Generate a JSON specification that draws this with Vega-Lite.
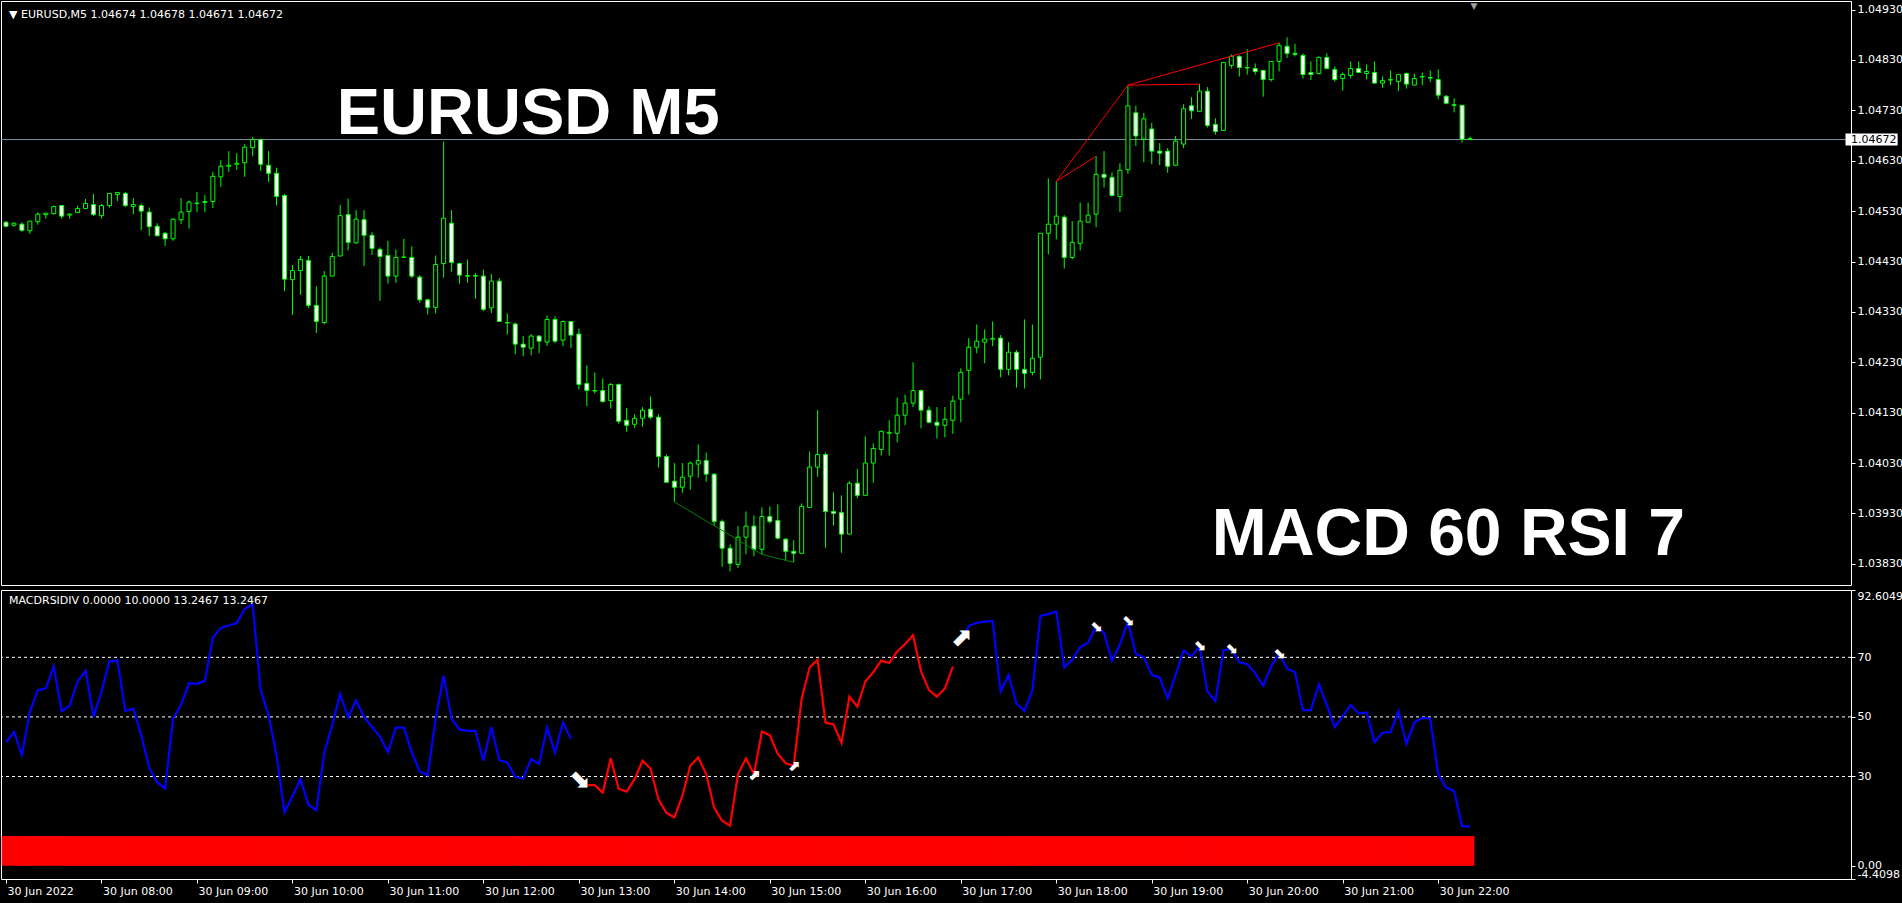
{
"$schema":"https://vega.github.io/schema/vega-lite/v6.json",
"background":"#000000",
"padding":{"left":0,"top":0,"right":0,"bottom":8},
"spacing":3,
"resolve":{"scale":{"color":"independent"}},
"config":{"view":{"stroke":"#ffffff","strokeWidth":1},"axis":{"labelColor":"#ffffff","tickColor":"#ffffff","labelFont":"DejaVu Sans","labelFontSize":11,"grid":false,"domain":false,"tickSize":4,"labelPadding":2,"labelOverlap":false},"font":"DejaVu Sans"},
"datasets":{
"candles":[
{"t":420,"o":1.04508,"h":1.0451,"l":1.04498,"c":1.045},
{"t":425,"o":1.04502,"h":1.04508,"l":1.04499,"c":1.04506},
{"t":430,"o":1.04504,"h":1.04508,"l":1.04489,"c":1.04492},
{"t":435,"o":1.04491,"h":1.0451,"l":1.04485,"c":1.0451},
{"t":440,"o":1.04509,"h":1.04528,"l":1.04503,"c":1.04524},
{"t":445,"o":1.04523,"h":1.04526,"l":1.04515,"c":1.04526},
{"t":450,"o":1.04525,"h":1.04541,"l":1.04523,"c":1.04539},
{"t":455,"o":1.04541,"h":1.04541,"l":1.04515,"c":1.0452},
{"t":460,"o":1.04522,"h":1.04526,"l":1.04515,"c":1.04524},
{"t":465,"o":1.04527,"h":1.04541,"l":1.04527,"c":1.04535},
{"t":470,"o":1.04535,"h":1.04554,"l":1.04535,"c":1.04545},
{"t":475,"o":1.04543,"h":1.04564,"l":1.0452,"c":1.04523},
{"t":480,"o":1.04521,"h":1.04544,"l":1.04515,"c":1.04541},
{"t":485,"o":1.04541,"h":1.04565,"l":1.04537,"c":1.04565},
{"t":490,"o":1.04563,"h":1.04567,"l":1.0455,"c":1.04567},
{"t":495,"o":1.04565,"h":1.04568,"l":1.04538,"c":1.04541},
{"t":500,"o":1.04539,"h":1.04556,"l":1.04524,"c":1.04543},
{"t":505,"o":1.04541,"h":1.04545,"l":1.04492,"c":1.0453},
{"t":510,"o":1.04528,"h":1.04537,"l":1.04481,"c":1.04499},
{"t":515,"o":1.045,"h":1.04506,"l":1.04481,"c":1.04481},
{"t":520,"o":1.04486,"h":1.04489,"l":1.04461,"c":1.04475},
{"t":525,"o":1.04475,"h":1.04516,"l":1.04471,"c":1.04514},
{"t":530,"o":1.04513,"h":1.04556,"l":1.04504,"c":1.04528},
{"t":535,"o":1.04529,"h":1.04551,"l":1.04495,"c":1.04548},
{"t":540,"o":1.04545,"h":1.04568,"l":1.04528,"c":1.04546},
{"t":545,"o":1.04547,"h":1.04562,"l":1.04528,"c":1.04549},
{"t":550,"o":1.04549,"h":1.04608,"l":1.04536,"c":1.04599},
{"t":555,"o":1.04598,"h":1.04631,"l":1.04578,"c":1.04619},
{"t":560,"o":1.04619,"h":1.04649,"l":1.04608,"c":1.04621},
{"t":565,"o":1.04623,"h":1.04645,"l":1.04612,"c":1.04625},
{"t":570,"o":1.04626,"h":1.04663,"l":1.04598,"c":1.04657},
{"t":575,"o":1.04656,"h":1.04677,"l":1.04639,"c":1.04672},
{"t":580,"o":1.04672,"h":1.04674,"l":1.0461,"c":1.04623},
{"t":585,"o":1.04621,"h":1.04649,"l":1.04588,"c":1.04605},
{"t":590,"o":1.04605,"h":1.04616,"l":1.04541,"c":1.04559},
{"t":595,"o":1.04561,"h":1.04564,"l":1.04371,"c":1.04395},
{"t":600,"o":1.04394,"h":1.04423,"l":1.04324,"c":1.04412},
{"t":605,"o":1.04412,"h":1.04441,"l":1.04364,"c":1.04434},
{"t":610,"o":1.04432,"h":1.04441,"l":1.04338,"c":1.04343},
{"t":615,"o":1.04343,"h":1.04381,"l":1.04288,"c":1.04311},
{"t":620,"o":1.04309,"h":1.04411,"l":1.04305,"c":1.04401},
{"t":625,"o":1.04401,"h":1.04447,"l":1.04401,"c":1.0444},
{"t":630,"o":1.04441,"h":1.04542,"l":1.0444,"c":1.04521},
{"t":635,"o":1.04523,"h":1.04555,"l":1.04452,"c":1.04468},
{"t":640,"o":1.04467,"h":1.04532,"l":1.04465,"c":1.04514},
{"t":645,"o":1.04513,"h":1.04532,"l":1.04421,"c":1.04482},
{"t":650,"o":1.04482,"h":1.04488,"l":1.04443,"c":1.04456},
{"t":655,"o":1.04454,"h":1.04458,"l":1.04352,"c":1.0444},
{"t":660,"o":1.04442,"h":1.04471,"l":1.04386,"c":1.04401},
{"t":665,"o":1.04401,"h":1.04454,"l":1.04388,"c":1.04438},
{"t":670,"o":1.04438,"h":1.04475,"l":1.04438,"c":1.04439},
{"t":675,"o":1.04438,"h":1.0446,"l":1.04397,"c":1.04401},
{"t":680,"o":1.04399,"h":1.04403,"l":1.04348,"c":1.04354},
{"t":685,"o":1.04354,"h":1.04356,"l":1.04325,"c":1.04339},
{"t":690,"o":1.04339,"h":1.04442,"l":1.04327,"c":1.04424},
{"t":695,"o":1.04426,"h":1.04668,"l":1.04398,"c":1.04516},
{"t":700,"o":1.04506,"h":1.04532,"l":1.0441,"c":1.04428},
{"t":705,"o":1.04426,"h":1.04428,"l":1.04386,"c":1.04403},
{"t":710,"o":1.04402,"h":1.04434,"l":1.04388,"c":1.04401},
{"t":715,"o":1.04402,"h":1.04407,"l":1.04356,"c":1.04401},
{"t":720,"o":1.04401,"h":1.04414,"l":1.04332,"c":1.04335},
{"t":725,"o":1.04338,"h":1.04405,"l":1.04328,"c":1.04391},
{"t":730,"o":1.04391,"h":1.04397,"l":1.04311,"c":1.04311},
{"t":735,"o":1.04309,"h":1.04327,"l":1.04285,"c":1.04308},
{"t":740,"o":1.04306,"h":1.04309,"l":1.04246,"c":1.04266},
{"t":745,"o":1.04266,"h":1.04282,"l":1.04242,"c":1.0426},
{"t":750,"o":1.04258,"h":1.04286,"l":1.04244,"c":1.04282},
{"t":755,"o":1.04282,"h":1.04284,"l":1.04248,"c":1.04272},
{"t":760,"o":1.0427,"h":1.04323,"l":1.04263,"c":1.04315},
{"t":765,"o":1.04315,"h":1.04321,"l":1.04268,"c":1.04272},
{"t":770,"o":1.04274,"h":1.04313,"l":1.04262,"c":1.04311},
{"t":775,"o":1.04311,"h":1.04311,"l":1.04258,"c":1.04284},
{"t":780,"o":1.04286,"h":1.04297,"l":1.04176,"c":1.04186},
{"t":785,"o":1.04188,"h":1.04224,"l":1.04143,"c":1.04174},
{"t":790,"o":1.04174,"h":1.0421,"l":1.04168,"c":1.04173},
{"t":795,"o":1.04174,"h":1.04198,"l":1.0415,"c":1.04152},
{"t":800,"o":1.04154,"h":1.04189,"l":1.04138,"c":1.04186},
{"t":805,"o":1.04186,"h":1.04188,"l":1.04108,"c":1.04113},
{"t":810,"o":1.04115,"h":1.04139,"l":1.04092,"c":1.04105},
{"t":815,"o":1.04107,"h":1.04127,"l":1.041,"c":1.04119},
{"t":820,"o":1.04119,"h":1.04141,"l":1.04102,"c":1.04135},
{"t":825,"o":1.04137,"h":1.04162,"l":1.04118,"c":1.04121},
{"t":830,"o":1.04121,"h":1.04127,"l":1.04021,"c":1.04043},
{"t":835,"o":1.04043,"h":1.04047,"l":1.03992,"c":1.03992},
{"t":840,"o":1.03994,"h":1.0403,"l":1.03953,"c":1.03982},
{"t":845,"o":1.03982,"h":1.0403,"l":1.03971,"c":1.04002},
{"t":850,"o":1.04004,"h":1.04033,"l":1.03977,"c":1.0403},
{"t":855,"o":1.04028,"h":1.04067,"l":1.04001,"c":1.04035},
{"t":860,"o":1.04035,"h":1.04051,"l":1.03993,"c":1.04008},
{"t":865,"o":1.04008,"h":1.0401,"l":1.03905,"c":1.03914},
{"t":870,"o":1.03914,"h":1.03918,"l":1.03824,"c":1.03861},
{"t":875,"o":1.03861,"h":1.03869,"l":1.03815,"c":1.03831},
{"t":880,"o":1.03829,"h":1.03905,"l":1.03822,"c":1.03883},
{"t":885,"o":1.03883,"h":1.03934,"l":1.03849,"c":1.03905},
{"t":890,"o":1.03905,"h":1.03926,"l":1.03845,"c":1.03859},
{"t":895,"o":1.03859,"h":1.03942,"l":1.03849,"c":1.03924},
{"t":900,"o":1.03924,"h":1.03944,"l":1.0391,"c":1.03914},
{"t":905,"o":1.03916,"h":1.03948,"l":1.03879,"c":1.03881},
{"t":910,"o":1.03879,"h":1.03881,"l":1.03837,"c":1.03855},
{"t":915,"o":1.03855,"h":1.03877,"l":1.03833,"c":1.03851},
{"t":920,"o":1.03851,"h":1.0395,"l":1.03851,"c":1.03944},
{"t":925,"o":1.03942,"h":1.04053,"l":1.03942,"c":1.04022},
{"t":930,"o":1.04022,"h":1.04135,"l":1.04003,"c":1.04047},
{"t":935,"o":1.04047,"h":1.04051,"l":1.03862,"c":1.03934},
{"t":940,"o":1.03934,"h":1.03972,"l":1.03906,"c":1.0393},
{"t":945,"o":1.03932,"h":1.03966,"l":1.03852,"c":1.03889},
{"t":950,"o":1.03889,"h":1.03994,"l":1.03889,"c":1.0399},
{"t":955,"o":1.0399,"h":1.04018,"l":1.0396,"c":1.03966},
{"t":960,"o":1.03966,"h":1.04083,"l":1.03966,"c":1.0403},
{"t":965,"o":1.0403,"h":1.04069,"l":1.03991,"c":1.04059},
{"t":970,"o":1.04057,"h":1.04095,"l":1.04045,"c":1.04093},
{"t":975,"o":1.04089,"h":1.04115,"l":1.04045,"c":1.04091},
{"t":980,"o":1.04089,"h":1.0416,"l":1.04071,"c":1.04125},
{"t":985,"o":1.04125,"h":1.04166,"l":1.04105,"c":1.04149},
{"t":990,"o":1.04149,"h":1.0423,"l":1.04141,"c":1.04174},
{"t":995,"o":1.04174,"h":1.04176,"l":1.04099,"c":1.04135},
{"t":1000,"o":1.04135,"h":1.04143,"l":1.04109,"c":1.04111},
{"t":1005,"o":1.04111,"h":1.04141,"l":1.04079,"c":1.04105},
{"t":1010,"o":1.04105,"h":1.04141,"l":1.04081,"c":1.04117},
{"t":1015,"o":1.04115,"h":1.04164,"l":1.04088,"c":1.04153},
{"t":1020,"o":1.04157,"h":1.04218,"l":1.04111,"c":1.0421},
{"t":1025,"o":1.04214,"h":1.04278,"l":1.04166,"c":1.0426},
{"t":1030,"o":1.0426,"h":1.04305,"l":1.04248,"c":1.04272},
{"t":1035,"o":1.0427,"h":1.04295,"l":1.04228,"c":1.04276},
{"t":1040,"o":1.04276,"h":1.04311,"l":1.04262,"c":1.04277},
{"t":1045,"o":1.04278,"h":1.04284,"l":1.042,"c":1.04216},
{"t":1050,"o":1.04216,"h":1.0427,"l":1.04204,"c":1.0425},
{"t":1055,"o":1.0425,"h":1.04254,"l":1.0418,"c":1.04216},
{"t":1060,"o":1.04216,"h":1.04315,"l":1.04178,"c":1.04208},
{"t":1065,"o":1.0421,"h":1.04305,"l":1.04204,"c":1.04238},
{"t":1070,"o":1.0424,"h":1.04486,"l":1.04196,"c":1.04486},
{"t":1075,"o":1.04486,"h":1.04595,"l":1.04444,"c":1.04504},
{"t":1080,"o":1.04504,"h":1.04589,"l":1.04474,"c":1.0452},
{"t":1085,"o":1.04518,"h":1.04522,"l":1.04416,"c":1.04438},
{"t":1090,"o":1.04438,"h":1.0451,"l":1.04434,"c":1.04468},
{"t":1095,"o":1.04466,"h":1.04547,"l":1.04452,"c":1.0451},
{"t":1100,"o":1.04508,"h":1.04547,"l":1.04508,"c":1.04522},
{"t":1105,"o":1.04524,"h":1.04639,"l":1.04498,"c":1.04603},
{"t":1110,"o":1.04603,"h":1.04649,"l":1.04577,"c":1.04597},
{"t":1115,"o":1.04597,"h":1.04607,"l":1.04559,"c":1.04561},
{"t":1120,"o":1.04559,"h":1.04625,"l":1.04528,"c":1.04611},
{"t":1125,"o":1.04612,"h":1.0478,"l":1.04604,"c":1.04739},
{"t":1130,"o":1.04725,"h":1.04739,"l":1.04659,"c":1.04679},
{"t":1135,"o":1.04673,"h":1.04725,"l":1.04627,"c":1.04713},
{"t":1140,"o":1.04693,"h":1.04705,"l":1.04623,"c":1.04649},
{"t":1145,"o":1.04649,"h":1.04665,"l":1.04621,"c":1.04645},
{"t":1150,"o":1.04649,"h":1.04655,"l":1.04606,"c":1.04619},
{"t":1155,"o":1.04621,"h":1.04679,"l":1.04619,"c":1.04669},
{"t":1160,"o":1.04663,"h":1.04742,"l":1.04655,"c":1.04733},
{"t":1165,"o":1.04739,"h":1.04756,"l":1.04713,"c":1.04729},
{"t":1170,"o":1.04728,"h":1.04782,"l":1.04728,"c":1.04768},
{"t":1175,"o":1.04768,"h":1.04776,"l":1.04696,"c":1.047},
{"t":1180,"o":1.04702,"h":1.04714,"l":1.04682,"c":1.04688},
{"t":1185,"o":1.0469,"h":1.04825,"l":1.0469,"c":1.04825},
{"t":1190,"o":1.04819,"h":1.04841,"l":1.04813,"c":1.04837},
{"t":1195,"o":1.04837,"h":1.04839,"l":1.04797,"c":1.04815},
{"t":1200,"o":1.04815,"h":1.04851,"l":1.04801,"c":1.04814},
{"t":1205,"o":1.04813,"h":1.04823,"l":1.04801,"c":1.04807},
{"t":1210,"o":1.04809,"h":1.04809,"l":1.04757,"c":1.04791},
{"t":1215,"o":1.04791,"h":1.04827,"l":1.04787,"c":1.04827},
{"t":1220,"o":1.04827,"h":1.04864,"l":1.04807,"c":1.04859},
{"t":1225,"o":1.04857,"h":1.04875,"l":1.04834,"c":1.04843},
{"t":1230,"o":1.04843,"h":1.04862,"l":1.04837,"c":1.04841},
{"t":1235,"o":1.04839,"h":1.04843,"l":1.04793,"c":1.04801},
{"t":1240,"o":1.04805,"h":1.04827,"l":1.0479,"c":1.04801},
{"t":1245,"o":1.04803,"h":1.04837,"l":1.04801,"c":1.04835},
{"t":1250,"o":1.04835,"h":1.04843,"l":1.04811,"c":1.04813},
{"t":1255,"o":1.04811,"h":1.04817,"l":1.04787,"c":1.04791},
{"t":1260,"o":1.04793,"h":1.04805,"l":1.04769,"c":1.04801},
{"t":1265,"o":1.04799,"h":1.04827,"l":1.04793,"c":1.04813},
{"t":1270,"o":1.04813,"h":1.04827,"l":1.04805,"c":1.04805},
{"t":1275,"o":1.04803,"h":1.04821,"l":1.04791,"c":1.04807},
{"t":1280,"o":1.04805,"h":1.04827,"l":1.04784,"c":1.04784},
{"t":1285,"o":1.04784,"h":1.04797,"l":1.04775,"c":1.04789},
{"t":1290,"o":1.0479,"h":1.04809,"l":1.0478,"c":1.04791},
{"t":1295,"o":1.04787,"h":1.04801,"l":1.04768,"c":1.04801},
{"t":1300,"o":1.04803,"h":1.04805,"l":1.04773,"c":1.04782},
{"t":1305,"o":1.0478,"h":1.04803,"l":1.0478,"c":1.04793},
{"t":1310,"o":1.04796,"h":1.04805,"l":1.0478,"c":1.04797},
{"t":1315,"o":1.04795,"h":1.04809,"l":1.04786,"c":1.04794},
{"t":1320,"o":1.04791,"h":1.04811,"l":1.04752,"c":1.0476},
{"t":1325,"o":1.04758,"h":1.0476,"l":1.04742,"c":1.04744},
{"t":1330,"o":1.04741,"h":1.04754,"l":1.04726,"c":1.0474},
{"t":1335,"o":1.0474,"h":1.0474,"l":1.04666,"c":1.04672},
{"t":1340,"o":1.04674,"h":1.04678,"l":1.04671,"c":1.04672}
],
"osc":[
{"t":420,"v":41.5,"s":"A","h":10},{"t":425,"v":44.9,"s":"A","h":10},{"t":430,"v":37.2,"s":"A","h":10},{"t":435,"v":51.7,"s":"A","h":10},{"t":440,"v":59.0,"s":"A","h":10},{"t":445,"v":59.6,"s":"A","h":10},{"t":450,"v":66.9,"s":"A","h":10},{"t":455,"v":51.9,"s":"A","h":10},{"t":460,"v":53.7,"s":"A","h":10},{"t":465,"v":61.9,"s":"A","h":10},
{"t":470,"v":65.5,"s":"A","h":10},{"t":475,"v":50.0,"s":"A","h":10},{"t":480,"v":58.5,"s":"A","h":10},{"t":485,"v":68.6,"s":"A","h":10},{"t":490,"v":69.0,"s":"A","h":10},{"t":495,"v":52.0,"s":"A","h":10},{"t":500,"v":52.8,"s":"A","h":10},{"t":505,"v":43.8,"s":"A","h":10},{"t":510,"v":33.0,"s":"A","h":10},{"t":515,"v":28.0,"s":"A","h":10},
{"t":520,"v":26.0,"s":"A","h":10},{"t":525,"v":49.4,"s":"A","h":10},{"t":530,"v":54.0,"s":"A","h":10},{"t":535,"v":61.3,"s":"A","h":10},{"t":540,"v":61.1,"s":"A","h":10},{"t":545,"v":62.1,"s":"A","h":10},{"t":550,"v":76.6,"s":"A","h":10},{"t":555,"v":79.9,"s":"A","h":10},{"t":560,"v":80.7,"s":"A","h":10},{"t":565,"v":81.5,"s":"A","h":10},
{"t":570,"v":86.2,"s":"A","h":10},{"t":575,"v":87.8,"s":"A","h":10},{"t":580,"v":59.0,"s":"A","h":10},{"t":585,"v":50.6,"s":"A","h":10},{"t":590,"v":37.0,"s":"A","h":10},{"t":595,"v":18.0,"s":"A","h":10},{"t":600,"v":23.4,"s":"A","h":10},{"t":605,"v":29.1,"s":"A","h":10},{"t":610,"v":20.6,"s":"A","h":10},{"t":615,"v":18.6,"s":"A","h":10},
{"t":620,"v":38.1,"s":"A","h":10},{"t":625,"v":47.2,"s":"A","h":10},{"t":630,"v":57.7,"s":"A","h":10},{"t":635,"v":49.8,"s":"A","h":10},{"t":640,"v":55.6,"s":"A","h":10},{"t":645,"v":50.0,"s":"A","h":10},{"t":650,"v":46.6,"s":"A","h":10},{"t":655,"v":43.4,"s":"A","h":10},{"t":660,"v":38.1,"s":"A","h":10},{"t":665,"v":46.4,"s":"A","h":10},
{"t":670,"v":46.4,"s":"A","h":10},{"t":675,"v":38.1,"s":"A","h":10},{"t":680,"v":31.7,"s":"A","h":10},{"t":685,"v":30.4,"s":"A","h":10},{"t":690,"v":49.4,"s":"A","h":10},{"t":695,"v":63.8,"s":"A","h":10},{"t":700,"v":49.4,"s":"A","h":10},{"t":705,"v":45.8,"s":"A","h":10},{"t":710,"v":45.3,"s":"A","h":10},{"t":715,"v":45.3,"s":"A","h":10},
{"t":720,"v":35.3,"s":"A","h":10},{"t":725,"v":46.6,"s":"A","h":10},{"t":730,"v":35.5,"s":"A","h":10},{"t":735,"v":34.7,"s":"A","h":10},{"t":740,"v":29.9,"s":"A","h":10},{"t":745,"v":29.3,"s":"A","h":10},{"t":750,"v":35.9,"s":"A","h":10},{"t":755,"v":34.2,"s":"A","h":10},{"t":760,"v":46.4,"s":"A","h":10},{"t":765,"v":38.1,"s":"A","h":10},
{"t":770,"v":48.1,"s":"A","h":10},{"t":775,"v":42.7,"s":"A","h":10},
{"t":780,"v":28.2,"s":"B","h":10},{"t":785,"v":27.1,"s":"B","h":10},{"t":790,"v":27.1,"s":"B","h":10},{"t":795,"v":24.6,"s":"B","h":10},{"t":800,"v":36.1,"s":"B","h":10},{"t":805,"v":25.9,"s":"B","h":10},{"t":810,"v":24.9,"s":"B","h":10},{"t":815,"v":29.1,"s":"B","h":10},
{"t":820,"v":35.3,"s":"B","h":10},{"t":825,"v":32.7,"s":"B","h":10},{"t":830,"v":22.3,"s":"B","h":10},{"t":835,"v":17.8,"s":"B","h":10},{"t":840,"v":16.3,"s":"B","h":10},{"t":845,"v":23.4,"s":"B","h":10},{"t":850,"v":33.6,"s":"B","h":10},{"t":855,"v":36.4,"s":"B","h":10},{"t":860,"v":30.8,"s":"B","h":10},{"t":865,"v":19.5,"s":"B","h":10},
{"t":870,"v":15.2,"s":"B","h":10},{"t":875,"v":13.5,"s":"B","h":10},{"t":880,"v":30.8,"s":"B","h":10},{"t":885,"v":36.1,"s":"B","h":10},{"t":890,"v":30.8,"s":"B","h":10},{"t":895,"v":45.1,"s":"B","h":10},{"t":900,"v":43.8,"s":"B","h":10},{"t":905,"v":37.6,"s":"B","h":10},{"t":910,"v":34.4,"s":"B","h":10},{"t":915,"v":33.6,"s":"B","h":10},
{"t":920,"v":56.2,"s":"B","h":10},{"t":925,"v":66.6,"s":"B","h":10},{"t":930,"v":69.2,"s":"B","h":10},{"t":935,"v":48.1,"s":"B","h":10},{"t":940,"v":47.5,"s":"B","h":10},{"t":945,"v":41.3,"s":"B","h":10},{"t":950,"v":56.8,"s":"B","h":10},{"t":955,"v":53.4,"s":"B","h":10},{"t":960,"v":61.9,"s":"B","h":10},{"t":965,"v":65.0,"s":"B","h":10},
{"t":970,"v":68.9,"s":"B","h":10},{"t":975,"v":68.1,"s":"B","h":10},{"t":980,"v":72.0,"s":"B","h":10},{"t":985,"v":74.5,"s":"B","h":10},{"t":990,"v":77.5,"s":"B","h":10},{"t":995,"v":65.3,"s":"B","h":10},{"t":1000,"v":59.0,"s":"B","h":10},{"t":1005,"v":56.8,"s":"B","h":10},{"t":1010,"v":59.6,"s":"B","h":10},{"t":1015,"v":66.9,"s":"B","h":10},
{"t":1020,"v":75.4,"s":"C","h":10},{"t":1025,"v":80.5,"s":"C","h":10},{"t":1030,"v":81.6,"s":"C","h":10},{"t":1035,"v":82.0,"s":"C","h":10},{"t":1040,"v":82.2,"s":"C","h":10},{"t":1045,"v":58.5,"s":"C","h":10},{"t":1050,"v":64.1,"s":"C","h":10},{"t":1055,"v":54.5,"s":"C","h":10},{"t":1060,"v":52.0,"s":"C","h":10},{"t":1065,"v":59.0,"s":"C","h":10},
{"t":1070,"v":83.9,"s":"C","h":10},{"t":1075,"v":84.5,"s":"C","h":10},{"t":1080,"v":85.4,"s":"C","h":10},{"t":1085,"v":66.6,"s":"C","h":10},{"t":1090,"v":69.2,"s":"C","h":10},{"t":1095,"v":73.4,"s":"C","h":10},{"t":1100,"v":74.9,"s":"C","h":10},{"t":1105,"v":80.5,"s":"C","h":10},{"t":1110,"v":78.2,"s":"C","h":10},{"t":1115,"v":68.9,"s":"C","h":10},
{"t":1120,"v":74.3,"s":"C","h":10},{"t":1125,"v":82.2,"s":"C","h":10},{"t":1130,"v":71.1,"s":"C","h":10},{"t":1135,"v":70.0,"s":"C","h":10},{"t":1140,"v":64.1,"s":"C","h":10},{"t":1145,"v":63.2,"s":"C","h":10},{"t":1150,"v":56.2,"s":"C","h":10},{"t":1155,"v":64.1,"s":"C","h":10},{"t":1160,"v":72.3,"s":"C","h":10},{"t":1165,"v":70.3,"s":"C","h":10},
{"t":1170,"v":73.7,"s":"C","h":10},{"t":1175,"v":58.5,"s":"C","h":10},{"t":1180,"v":55.3,"s":"C","h":10},{"t":1185,"v":72.3,"s":"C","h":10},{"t":1190,"v":72.9,"s":"C","h":10},{"t":1195,"v":68.3,"s":"C","h":10},{"t":1200,"v":67.7,"s":"C","h":10},{"t":1205,"v":64.7,"s":"C","h":10},{"t":1210,"v":60.4,"s":"C","h":10},{"t":1215,"v":66.9,"s":"C","h":10},
{"t":1220,"v":71.5,"s":"C","h":10},{"t":1225,"v":66.2,"s":"C","h":10},{"t":1230,"v":65.0,"s":"C","h":10},{"t":1235,"v":52.3,"s":"C","h":10},{"t":1240,"v":52.3,"s":"C","h":10},{"t":1245,"v":61.0,"s":"C","h":10},{"t":1250,"v":54.0,"s":"C","h":10},{"t":1255,"v":46.6,"s":"C","h":10},{"t":1260,"v":50.3,"s":"C","h":10},{"t":1265,"v":54.0,"s":"C","h":10},
{"t":1270,"v":51.1,"s":"C","h":10},{"t":1275,"v":51.5,"s":"C","h":10},{"t":1280,"v":41.5,"s":"C","h":10},{"t":1285,"v":44.7,"s":"C","h":10},{"t":1290,"v":44.9,"s":"C","h":10},{"t":1295,"v":51.9,"s":"C","h":10},{"t":1300,"v":41.0,"s":"C","h":10},{"t":1305,"v":48.1,"s":"C","h":10},{"t":1310,"v":49.7,"s":"C","h":10},{"t":1315,"v":49.4,"s":"C","h":10},
{"t":1320,"v":30.8,"s":"C","h":10},{"t":1325,"v":26.3,"s":"C","h":10},{"t":1330,"v":25.1,"s":"C","h":10},{"t":1335,"v":13.3,"s":"C","h":10},{"t":1340,"v":13.2467,"s":"C","h":10}
],
"divs":[
{"id":"r1","k":"bear","t":1080,"p":1.04589},{"id":"r1","k":"bear","t":1125,"p":1.0478},
{"id":"r2","k":"bear","t":1125,"p":1.0478},{"id":"r2","k":"bear","t":1170,"p":1.04782},
{"id":"r3","k":"bear","t":1080,"p":1.04589},{"id":"r3","k":"bear","t":1105,"p":1.04639},
{"id":"r4","k":"bear","t":1125,"p":1.0478},{"id":"r4","k":"bear","t":1220,"p":1.04864},
{"id":"g1","k":"bull","t":840,"p":1.03953},{"id":"g1","k":"bull","t":895,"p":1.03849},{"id":"g1","k":"bull","t":915,"p":1.03833}
],
"arrows":[
{"t":780,"v":29.3,"dir":"down","major":true},
{"t":890,"v":30.5,"dir":"up","major":false},
{"t":915,"v":33.6,"dir":"up","major":false},
{"t":1020,"v":76.4,"dir":"up","major":true},
{"t":1105,"v":80.6,"dir":"down","major":false},
{"t":1125,"v":82.5,"dir":"down","major":false},
{"t":1170,"v":74.2,"dir":"down","major":false},
{"t":1190,"v":73,"dir":"down","major":false},
{"t":1220,"v":71.5,"dir":"down","major":false}
],
"levels":[{"level":70},{"level":50},{"level":30}]
},
"vconcat":[
{
"width":1850,"height":584,
"layer":[
{"data":{"values":[{}]},"mark":{"type":"rule","color":"#8090a0","strokeWidth":1},
 "encoding":{"y":{"datum":1.04672,"type":"quantitative","scale":{"domain":[1.037881,1.049469],"nice":false,"zero":false}}}},
{"data":{"name":"candles"},"mark":{"type":"rule","color":"#00ff00","strokeWidth":1},
 "encoding":{
  "x":{"field":"t","type":"quantitative","scale":{"domain":[420,1576.25],"nice":false,"zero":false},"axis":null,"title":null},
  "y":{"field":"l","type":"quantitative","scale":{"domain":[1.037881,1.049469],"nice":false,"zero":false},"title":null,
   "axis":{"orient":"right","values":[1.0383,1.0393,1.0403,1.0413,1.0423,1.0433,1.0443,1.0453,1.0463,1.0473,1.0483,1.0493],"format":".5f"}},
  "y2":{"field":"h"}}},
{"data":{"name":"candles"},"mark":{"type":"bar","size":4,"stroke":"#00ff00","strokeWidth":1},
 "encoding":{
  "x":{"field":"t","type":"quantitative","scale":{"domain":[420,1576.25],"nice":false,"zero":false},"axis":null,"title":null},
  "y":{"field":"o","type":"quantitative","scale":{"domain":[1.037881,1.049469],"nice":false,"zero":false},"title":null},
  "y2":{"field":"c"},
  "fill":{"condition":{"test":"datum.c < datum.o","value":"#ffffff"},"value":"#000000"}}},
{"data":{"name":"divs"},"mark":{"type":"line","strokeWidth":1},
 "encoding":{
  "x":{"field":"t","type":"quantitative","scale":{"domain":[420,1576.25],"nice":false,"zero":false},"axis":null,"title":null},
  "y":{"field":"p","type":"quantitative","scale":{"domain":[1.037881,1.049469],"nice":false,"zero":false},"title":null},
  "detail":{"field":"id"},
  "color":{"field":"k","type":"nominal","scale":{"domain":["bear","bull"],"range":["#ff0000","#008000"]},"legend":null}}},
{"data":{"values":[{}]},"mark":{"type":"text","text":"EURUSD M5","font":"Liberation Sans","fontWeight":"bold","fontSize":65,"color":"#ffffff","align":"center","baseline":"middle"},
 "encoding":{"x":{"datum":748.1,"type":"quantitative","scale":{"domain":[420,1576.25],"nice":false,"zero":false},"axis":null},
  "y":{"datum":1.047232,"type":"quantitative","scale":{"domain":[1.037881,1.049469],"nice":false,"zero":false}}}},
{"data":{"values":[{}]},"mark":{"type":"text","text":"MACD 60 RSI 7","font":"Liberation Sans","fontWeight":"bold","fontSize":66,"color":"#ffffff","align":"center","baseline":"middle"},
 "encoding":{"x":{"datum":1326.4,"type":"quantitative","scale":{"domain":[420,1576.25],"nice":false,"zero":false},"axis":null},
  "y":{"datum":1.038877,"type":"quantitative","scale":{"domain":[1.037881,1.049469],"nice":false,"zero":false}}}},
{"data":{"values":[{}]},"mark":{"type":"text","text":"▼  EURUSD,M5  1.04674 1.04678 1.04671 1.04672","font":"DejaVu Sans","fontSize":11,"color":"#ffffff","align":"left","baseline":"middle"},
 "encoding":{"x":{"datum":421.9,"type":"quantitative","scale":{"domain":[420,1576.25],"nice":false,"zero":false},"axis":null},
  "y":{"datum":1.049191,"type":"quantitative","scale":{"domain":[1.037881,1.049469],"nice":false,"zero":false}}}},
{"data":{"values":[{}]},"mark":{"type":"text","text":"▼","fontSize":9,"color":"#a0a0a0","align":"center","baseline":"middle"},
 "encoding":{"x":{"datum":1342.5,"type":"quantitative","scale":{"domain":[420,1576.25],"nice":false,"zero":false},"axis":null},
  "y":{"datum":1.04937,"type":"quantitative","scale":{"domain":[1.037881,1.049469],"nice":false,"zero":false}}}},
{"data":{"values":[{}]},"mark":{"type":"rect","color":"#ffffff"},
 "encoding":{"x":{"datum":1575.94,"type":"quantitative","scale":{"domain":[420,1576.25],"nice":false,"zero":false},"axis":null},
  "x2":{"datum":1608.7},
  "y":{"datum":1.046838,"type":"quantitative","scale":{"domain":[1.037881,1.049469],"nice":false,"zero":false}},
  "y2":{"datum":1.046602}}},
{"data":{"values":[{}]},"mark":{"type":"text","text":"1.04672","fontSize":11,"color":"#000000","align":"left","baseline":"middle"},
 "encoding":{"x":{"datum":1579.4,"type":"quantitative","scale":{"domain":[420,1576.25],"nice":false,"zero":false},"axis":null},
  "y":{"datum":1.04672,"type":"quantitative","scale":{"domain":[1.037881,1.049469],"nice":false,"zero":false}}}}
]
},
{
"width":1850,"height":289,
"layer":[
{"data":{"name":"osc"},"mark":{"type":"bar","size":8.6,"color":"#ff0000"},
 "encoding":{
  "x":{"field":"t","type":"quantitative","scale":{"domain":[420,1576.25],"nice":false,"zero":false},"title":null,
   "axis":{"values":[420,480,540,600,660,720,780,840,900,960,1020,1080,1140,1200,1260,1320],"labelAlign":"left","labelFlush":false,"labelOffset":1,
    "labelExpr":"datum.value == 420 ? '30 Jun 2022' : '30 Jun ' + (datum.value < 600 ? '0' : '') + floor(datum.value / 60) + ':00'"}},
  "y":{"field":"h","type":"quantitative","scale":{"domain":[-4.4098,92.6049],"nice":false,"zero":false},"title":null,
   "axis":{"orient":"right","values":[92.6049,70,50,30,0,-4.4098],"labelFlush":true,"labelExpr":"datum.value == 0 ? '0.00' : toString(datum.value)"}},
  "y2":{"datum":0}}},
{"data":{"name":"levels"},"mark":{"type":"rule","color":"#ffffff","strokeWidth":1,"strokeDash":[3,3]},
 "encoding":{"y":{"field":"level","type":"quantitative","scale":{"domain":[-4.4098,92.6049],"nice":false,"zero":false},"title":null}}},
{"data":{"name":"osc"},"mark":{"type":"line","strokeWidth":2.2},
 "encoding":{
  "x":{"field":"t","type":"quantitative","scale":{"domain":[420,1576.25],"nice":false,"zero":false},"title":null},
  "y":{"field":"v","type":"quantitative","scale":{"domain":[-4.4098,92.6049],"nice":false,"zero":false},"title":null},
  "detail":{"field":"s"},
  "color":{"field":"s","type":"nominal","scale":{"domain":["A","B","C"],"range":["#0000ff","#ff0000","#0000ff"]},"legend":null}}},
{"data":{"name":"arrows"},"transform":[{"filter":"datum.major"}],"mark":{"type":"text","fontSize":26,"fontWeight":"bold","color":"#ffffff","align":"center","baseline":"middle"},
 "encoding":{
  "x":{"field":"t","type":"quantitative","scale":{"domain":[420,1576.25],"nice":false,"zero":false},"title":null},
  "y":{"field":"v","type":"quantitative","scale":{"domain":[-4.4098,92.6049],"nice":false,"zero":false},"title":null},
  "text":{"condition":{"test":"datum.dir == 'down'","value":"⬊"},"value":"⬈"}}},
{"data":{"name":"arrows"},"transform":[{"filter":"!datum.major"}],"mark":{"type":"text","fontSize":15,"fontWeight":"bold","color":"#ffffff","align":"center","baseline":"middle"},
 "encoding":{
  "x":{"field":"t","type":"quantitative","scale":{"domain":[420,1576.25],"nice":false,"zero":false},"title":null},
  "y":{"field":"v","type":"quantitative","scale":{"domain":[-4.4098,92.6049],"nice":false,"zero":false},"title":null},
  "text":{"condition":{"test":"datum.dir == 'down'","value":"⬊"},"value":"⬈"}}},
{"data":{"values":[{}]},"mark":{"type":"text","text":"MACDRSIDIV 0.0000 10.0000 13.2467 13.2467","fontSize":11,"color":"#ffffff","align":"left","baseline":"middle"},
 "encoding":{"x":{"datum":421.9,"type":"quantitative","scale":{"domain":[420,1576.25],"nice":false,"zero":false}},
  "y":{"datum":88.9,"type":"quantitative","scale":{"domain":[-4.4098,92.6049],"nice":false,"zero":false}}}}
]
}
]
}
